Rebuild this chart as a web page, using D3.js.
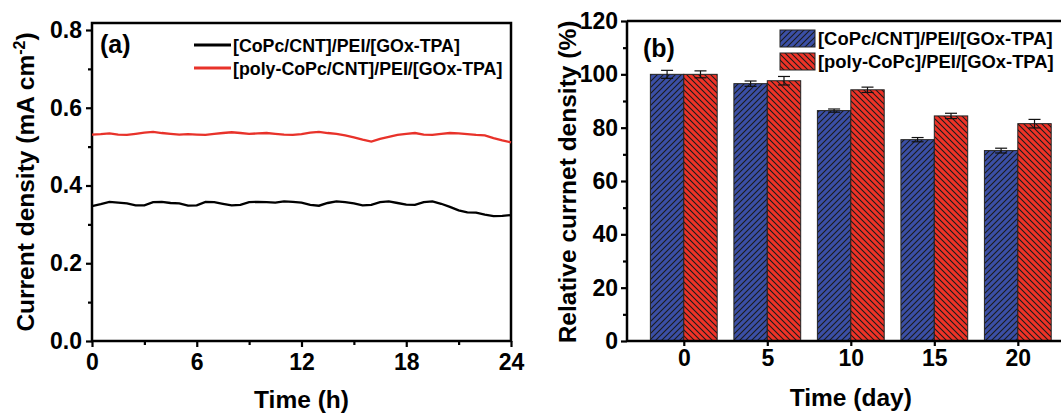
<!DOCTYPE html>
<html><head><meta charset="utf-8">
<script src="https://cdn.jsdelivr.net/npm/d3@7"></script>
<style>body{margin:0;background:#fff}svg{display:block}text{font-family:"Liberation Sans",Arial,sans-serif;font-weight:bold}</style>
</head><body>
<svg id="c" width="1061" height="415"></svg>
<script>
// ---- Panel (a) data ----
const timeH = [0,0.5,1,1.5,2,2.5,3,3.5,4,4.5,5,5.5,6,6.5,7,7.5,8,8.5,9,9.5,10,10.5,11,11.5,12,12.5,13,13.5,14,14.5,15,15.5,16,16.5,17,17.5,18,18.5,19,19.5,20,20.5,21,21.5,22,22.5,23,23.5,24];
const blackCurrent = [0.347,0.352,0.358,0.356,0.354,0.349,0.349,0.357,0.358,0.355,0.354,0.348,0.349,0.358,0.357,0.353,0.349,0.350,0.357,0.358,0.357,0.356,0.359,0.358,0.356,0.350,0.348,0.355,0.359,0.357,0.354,0.349,0.350,0.357,0.359,0.355,0.351,0.350,0.357,0.359,0.353,0.345,0.336,0.331,0.330,0.325,0.321,0.322,0.324];
const redCurrent = [0.531,0.532,0.534,0.531,0.530,0.533,0.536,0.538,0.535,0.533,0.531,0.532,0.531,0.530,0.533,0.535,0.537,0.535,0.533,0.534,0.535,0.533,0.531,0.530,0.532,0.536,0.538,0.535,0.533,0.529,0.524,0.518,0.513,0.520,0.525,0.530,0.533,0.535,0.531,0.530,0.533,0.535,0.534,0.532,0.530,0.529,0.522,0.516,0.511];
const seriesA = ["[CoPc/CNT]/PEI/[GOx-TPA]","[poly-CoPc/CNT]/PEI/[GOx-TPA]"];
const xTicksA = [0,6,12,18,24];
const yTicksA = [0,0.2,0.4,0.6,0.8];

// ---- Panel (b) data ----
const days = [0,5,10,15,20];
const blueRel = [100,96.5,86.4,75.5,71.4];
const blueErr = [1.5,1.0,0.6,0.8,0.9];
const redRel = [100,97.6,94.2,84.4,81.5];
const redErr = [1.3,1.6,1.0,1.0,1.6];
const seriesB = ["[CoPc/CNT]/PEI/[GOx-TPA]","[poly-CoPc]/PEI/[GOx-TPA]"];
const yTicksB = [0,20,40,60,80,100,120];

const svg = d3.select("#c");
const defs = svg.append("defs");
function hatch(id, fill, dir){
  const p = defs.append("pattern").attr("id",id).attr("patternUnits","userSpaceOnUse")
    .attr("width",6).attr("height",6);
  p.append("rect").attr("width",6).attr("height",6).attr("fill",fill);
  const d = dir>0 ? "M-1,7 L7,-1 M-4,4 L4,-4 M2,10 L10,2" : "M-1,-1 L7,7 M-4,2 L2,8 M4,-2 L10,4";
  p.append("path").attr("d",d).attr("stroke","#1a1a1a").attr("stroke-width",1.1);
}
hatch("hb","#3b4fa6",1);
hatch("hr","#ee3327",-1);

const TICKF = 23, TITLEF = 24.5, LEGF = 17.8;

// ================= Panel (a) =================
const xA = d3.scaleLinear().domain([0,24]).range([92,511]);
const yA = d3.scaleLinear().domain([0,0.8]).range([341,30]);
const gA = svg.append("g");
const topA = yA(0.818);
gA.append("rect").attr("x",xA(0)).attr("y",topA).attr("width",xA(24)-xA(0)).attr("height",yA(0)-topA)
  .attr("fill","none").attr("stroke","#000").attr("stroke-width",2.5);

const axXA = gA.append("g").attr("transform",`translate(0,${yA(0)})`)
  .call(d3.axisBottom(xA).tickValues(xTicksA).tickSize(6).tickPadding(5).tickFormat(d3.format("d")));
const axXAm = gA.append("g").attr("transform",`translate(0,${yA(0)})`)
  .call(d3.axisBottom(xA).tickValues([3,9,15,21]).tickSize(4).tickFormat(""));
const axYA = gA.append("g").attr("transform",`translate(${xA(0)},0)`)
  .call(d3.axisLeft(yA).tickValues(yTicksA).tickSize(6).tickPadding(4).tickFormat(d3.format(".1f")));
const axYAm = gA.append("g").attr("transform",`translate(${xA(0)},0)`)
  .call(d3.axisLeft(yA).tickValues([0.1,0.3,0.5,0.7]).tickSize(4).tickFormat(""));
[axXA,axXAm,axYA,axYAm].forEach(a=>{a.select(".domain").remove();a.selectAll("line").attr("stroke","#000").attr("stroke-width",2.2);});
axXA.selectAll("text").attr("font-size",TICKF).attr("fill","#000").attr("dy","0.8em");
axYA.selectAll("text").attr("font-size",TICKF).attr("fill","#000");

const lineA = d3.line().x((d,i)=>xA(timeH[i])).y(d=>yA(d));
gA.append("path").datum(redCurrent).attr("d",lineA).attr("fill","none").attr("stroke","#e8322a").attr("stroke-width",2.3);
gA.append("path").datum(blackCurrent).attr("d",lineA).attr("fill","none").attr("stroke","#000").attr("stroke-width",2.3);

gA.append("text").attr("x",100).attr("y",53).attr("font-size",25).text("(a)");
const legCol = ["#000","#e8322a"];
seriesA.forEach((s,i)=>{
  const yy = 45 + i*23;
  gA.append("line").attr("x1",194).attr("x2",231).attr("y1",yy).attr("y2",yy).attr("stroke",legCol[i]).attr("stroke-width",3);
  gA.append("text").attr("x",233).attr("y",yy+6.5).attr("font-size",LEGF).attr("fill","#000").text(s);
});

gA.append("text").attr("x",xA(12)).attr("y",408).attr("text-anchor","middle").attr("font-size",TITLEF).text("Time (h)");
const ytA = gA.append("text").attr("transform","translate(34,182) rotate(-90)").attr("text-anchor","middle").attr("font-size",TITLEF);
ytA.append("tspan").text("Current density (mA cm");
ytA.append("tspan").attr("dy",-9).attr("font-size",16).text("-2");
ytA.append("tspan").attr("dy",9).text(")");

// ================= Panel (b) =================
const xB = d3.scaleLinear().domain([-3.4,23.4]).range([627,1074.6]);
const yB = d3.scaleLinear().domain([0,120]).range([341,21]);
const gB = svg.append("g");
const bw = 2; // bar width in day units

gB.selectAll(".bb").data(days).join("rect").attr("class","bb")
  .attr("x",d=>xB(d-bw)).attr("width",d=>xB(d)-xB(d-bw))
  .attr("y",(d,i)=>yB(blueRel[i])).attr("height",(d,i)=>yB(0)-yB(blueRel[i]))
  .attr("fill","url(#hb)").attr("stroke","#222").attr("stroke-width",1);
gB.selectAll(".br").data(days).join("rect").attr("class","br")
  .attr("x",d=>xB(d)).attr("width",d=>xB(d+bw)-xB(d))
  .attr("y",(d,i)=>yB(redRel[i])).attr("height",(d,i)=>yB(0)-yB(redRel[i]))
  .attr("fill","url(#hr)").attr("stroke","#222").attr("stroke-width",1);

function errBars(vals, errs, off){
  days.forEach((d,i)=>{
    const cx = xB(d+off);
    const y1 = yB(vals[i]+errs[i]), y2 = yB(vals[i]-errs[i]);
    gB.append("line").attr("x1",cx).attr("x2",cx).attr("y1",y1).attr("y2",y2).attr("stroke","#111").attr("stroke-width",1.2);
    [y1,y2].forEach(yy=>gB.append("line").attr("x1",cx-6).attr("x2",cx+6).attr("y1",yy).attr("y2",yy).attr("stroke","#111").attr("stroke-width",1.2));
  });
}
errBars(blueRel, blueErr, -1);
errBars(redRel, redErr, 1);

// frame
gB.append("line").attr("x1",xB(-3.4)).attr("x2",1061).attr("y1",yB(120)).attr("y2",yB(120)).attr("stroke","#000").attr("stroke-width",2.5);
gB.append("line").attr("x1",xB(-3.4)).attr("x2",1061).attr("y1",yB(0)).attr("y2",yB(0)).attr("stroke","#000").attr("stroke-width",2.5);
gB.append("line").attr("x1",xB(-3.4)).attr("x2",xB(-3.4)).attr("y1",yB(120)).attr("y2",yB(0)).attr("stroke","#000").attr("stroke-width",2.5);

const axXB = gB.append("g").attr("transform",`translate(0,${yB(0)})`)
  .call(d3.axisBottom(xB).tickValues(days).tickSize(5).tickPadding(3).tickFormat(d3.format("d")));
const axYB = gB.append("g").attr("transform",`translate(${xB(-3.4)},0)`)
  .call(d3.axisLeft(yB).tickValues(yTicksB).tickSize(6).tickPadding(3).tickFormat(d3.format("d")));
const axYBm = gB.append("g").attr("transform",`translate(${xB(-3.4)},0)`)
  .call(d3.axisLeft(yB).tickValues([10,30,50,70,90,110]).tickSize(4).tickFormat(""));
[axXB,axYB,axYBm].forEach(a=>{a.select(".domain").remove();a.selectAll("line").attr("stroke","#000").attr("stroke-width",2.2);});
axXB.selectAll("text").attr("font-size",TICKF).attr("fill","#000").attr("dy","0.72em");
axYB.selectAll("text").attr("font-size",TICKF).attr("fill","#000");

gB.append("text").attr("x",643).attr("y",57).attr("font-size",25).text("(b)");
const legFill = ["url(#hb)","url(#hr)"];
seriesB.forEach((s,i)=>{
  const yy = 30 + i*23;
  gB.append("rect").attr("x",780).attr("y",yy).attr("width",35).attr("height",17).attr("fill",legFill[i]).attr("stroke","#222").attr("stroke-width",1);
  gB.append("text").attr("x",818).attr("y",yy+15).attr("font-size",LEGF+0.6).attr("fill","#000").text(s);
});

gB.append("text").attr("x",xB(10)).attr("y",406).attr("text-anchor","middle").attr("font-size",TITLEF).text("Time (day)");
gB.append("text").attr("transform","translate(576,182) rotate(-90)").attr("text-anchor","middle").attr("font-size",TITLEF).text("Relative currnet density (%)");
</script>
</body></html>
